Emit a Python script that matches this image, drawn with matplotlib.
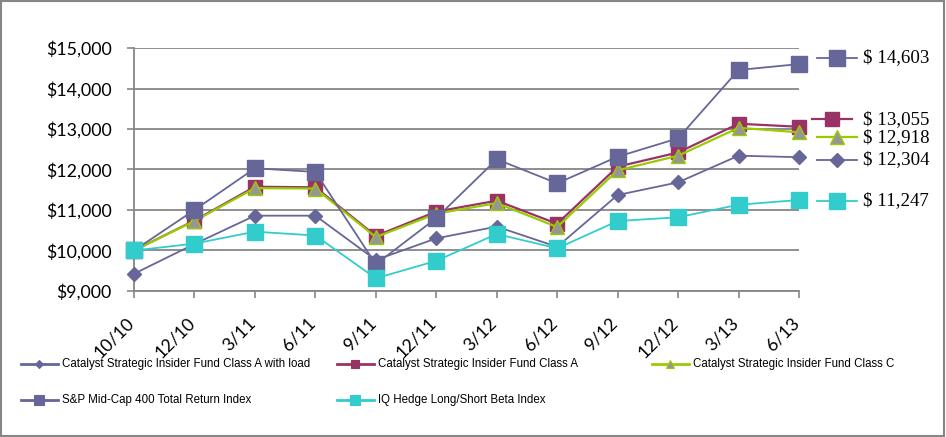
import matplotlib.pyplot as plt
import matplotlib.transforms as mtransforms
from matplotlib.lines import Line2D
from matplotlib.patches import Rectangle

dates = ["10/10", "12/10", "3/11", "6/11", "9/11", "12/11",
         "3/12", "6/12", "9/12", "12/12", "3/13", "6/13"]

class_a_load = [9425, 10160, 10860, 10860, 9765, 10300,
                10590, 10090, 11370, 11683, 12341, 12304]
class_a = [10000, 10740, 11575, 11560, 10360, 10960,
           11230, 10660, 12070, 12420, 13130, 13055]
class_c = [10000, 10730, 11540, 11530, 10330, 10910,
           11170, 10580, 11980, 12340, 13030, 12918]
sp_midcap = [10000, 11000, 12030, 11940, 9660, 10800,
             12252, 11659, 12316, 12770, 14457, 14603]
iq_hedge = [10000, 10170, 10465, 10370, 9313, 9745,
            10407, 10053, 10728, 10820, 11130, 11247]

names = ["Catalyst Strategic Insider Fund Class A with load",
         "Catalyst Strategic Insider Fund Class A",
         "Catalyst Strategic Insider Fund Class C",
         "S&P Mid-Cap 400 Total Return Index",
         "IQ Hedge Long/Short Beta Index"]

PURPLE = "#666699"
MAROON = "#993366"
GREEN = "#99cc00"
GREY = "#969696"
CYAN = "#33cccc"
AXIS_GREY = "#868686"

W, H = 946, 437

# style per series: color, marker, size, face, line width, legend marker size
styles = [
    dict(color=PURPLE, marker="D", ms=6.8, mfc=PURPLE, mec=PURPLE, lw=1.3, lms=4.0),
    dict(color=MAROON, marker="s", ms=9.8, mfc=MAROON, mec=MAROON, lw=1.6, lms=5.5),
    dict(color=GREEN, marker="^", ms=10, mfc=GREY, mec=GREEN, lw=1.6, lms=6.0),
    dict(color=PURPLE, marker="s", ms=12, mfc=PURPLE, mec=PURPLE, lw=1.3, lms=7.5),
    dict(color=CYAN, marker="s", ms=12, mfc=CYAN, mec=CYAN, lw=1.3, lms=7.5),
]
series = [class_a_load, class_a, class_c, sp_midcap, iq_hedge]


def fx(px):
    return px / W


def fy(py):
    return 1 - py / H


def main() -> None:
    fig = plt.figure(figsize=(W / 100, H / 100), dpi=100)
    ax = fig.add_axes([fx(134), fy(291), (799 - 134) / W, (291 - 48) / H])

    x = list(range(len(dates)))
    for vals, st in zip(series, styles):
        ax.plot(x, vals, color=st["color"], lw=st["lw"], marker=st["marker"],
                ms=st["ms"], mfc=st["mfc"], mec=st["mec"], mew=1.0,
                clip_on=False, zorder=3)

    ax.set_xlim(0, len(dates) - 1)
    ax.set_ylim(9000, 15000)
    ax.set_yticks(range(9000, 15001, 1000))
    ax.set_yticklabels([f"${v:,}" for v in range(9000, 15001, 1000)],
                       fontfamily="Lato", fontsize=12.8)
    ax.set_xticks(x)
    ax.set_xticklabels(dates, rotation=45, ha="right", rotation_mode="anchor",
                       fontfamily="Lato", fontsize=12.8)
    ax.tick_params(axis="y", length=5, width=1.2, color=AXIS_GREY, pad=11)
    ax.tick_params(axis="x", length=5, width=1.2, color=AXIS_GREY, pad=12)
    shift = mtransforms.ScaledTranslation(-8 / 100, 0, fig.dpi_scale_trans)
    for lab in ax.get_xticklabels():
        lab.set_transform(lab.get_transform() + shift)
    ax.grid(axis="y", color=AXIS_GREY, lw=1.3)
    ax.set_axisbelow(True)
    for side in ("top", "right"):
        ax.spines[side].set_visible(False)
    for side in ("left", "bottom"):
        ax.spines[side].set_color(AXIS_GREY)
        ax.spines[side].set_linewidth(1.3)

    # end-value labels on the right
    blend = mtransforms.blended_transform_factory(fig.transFigure, ax.transData)
    label_order = [3, 1, 2, 0, 4]
    label_dy = {3: 4.6, 1: 5.4, 2: -3.6, 0: -2.0, 4: -0.5}
    label_x0 = {1: 812}
    for i in label_order:
        st = styles[i]
        end = series[i][-1]
        tr = mtransforms.offset_copy(blend, fig=fig, x=0, y=label_dy[i], units="points")
        x0 = label_x0.get(i, 817)
        fig.add_artist(Line2D([fx(x0), fx(x0 + 40)], [end, end], transform=tr,
                              color=st["color"], lw=st["lw"]))
        fig.add_artist(Line2D([fx(x0 + 20)], [end], transform=tr, marker=st["marker"],
                              ms=st["ms"], mfc=st["mfc"], mec=st["mec"], mew=1.0,
                              color=st["color"]))
        fig.text(fx(863), end, f"$ {end:,}", transform=tr, va="center",
                 ha="left", fontfamily="Liberation Serif", fontsize=13.6)

    # legend laid out in the same grid as the original
    cols = [21, 337, 652]
    rows = [364, 400]
    for k, (name, st) in enumerate(zip(names, styles)):
        lx = cols[k % 3]
        ly = rows[k // 3]
        fig.add_artist(Line2D([fx(lx), fx(lx + 37)], [fy(ly), fy(ly)],
                              color=st["color"], lw=2.0))
        fig.add_artist(Line2D([fx(lx + 18)], [fy(ly)], marker=st["marker"],
                              ms=st["lms"], mfc=st["mfc"], mec=st["mec"],
                              mew=0.8, color=st["color"]))
        fig.text(fx(lx + 41), fy(ly), name, va="center", ha="left",
                 fontfamily="Liberation Sans", fontsize=8.3)

    fig.add_artist(Rectangle((0.001, 0.002), 0.997, 0.996, transform=fig.transFigure,
                             fill=False, edgecolor=AXIS_GREY, lw=1.5))

    fig.savefig("out.png", dpi=100)


if __name__ == "__main__":
    main()
